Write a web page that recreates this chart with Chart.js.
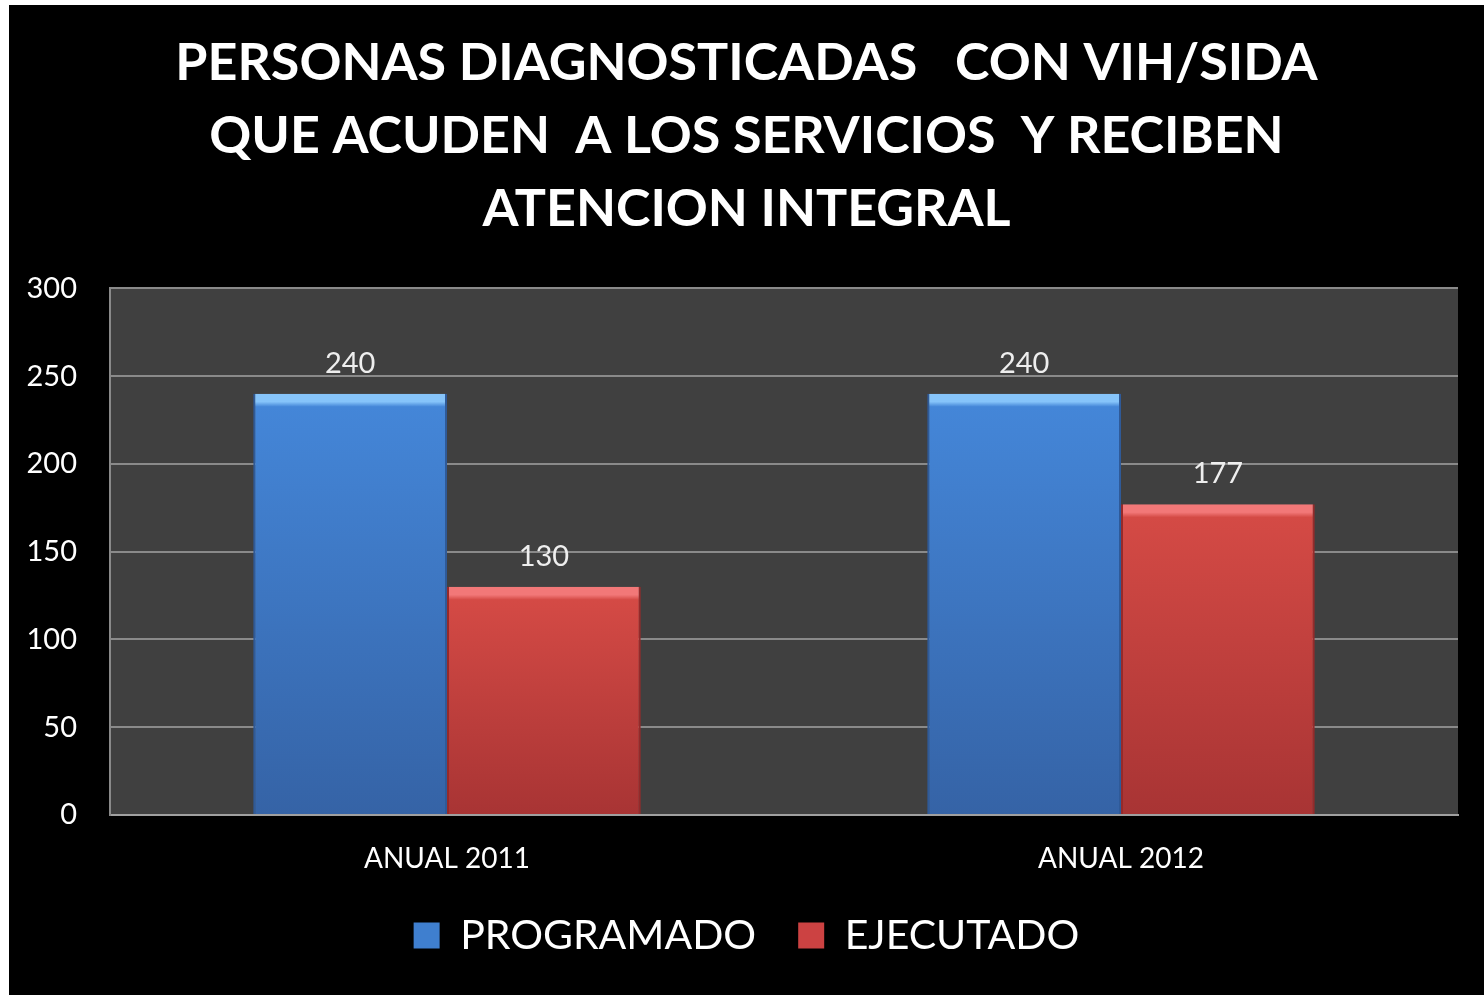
<!DOCTYPE html>
<html>
<head>
<meta charset="utf-8">
<script src="https://cdn.jsdelivr.net/npm/chart.js@4.4.0/dist/chart.umd.min.js"></script>
<style>
  html, body { margin:0; padding:0; background:#fff; }
  #wrap { position:absolute; left:9px; top:5px; width:1475px; height:990px; background:#000; }
</style>
</head>
<body>
<div id="wrap"><canvas id="grafico" width="1475" height="990"></canvas></div>
<script>
// ─── DATOS ───────────────────────────────────────────────────────────────────
const categorias  = ["ANUAL 2011", "ANUAL 2012"];
const programado  = [240, 240];
const ejecutado   = [130, 177];
const titulo      = [
  "PERSONAS DIAGNOSTICADAS   CON VIH/SIDA",
  "QUE ACUDEN  A LOS SERVICIOS  Y RECIBEN",
  "ATENCION INTEGRAL"
];

const FONT = "Lato, 'Open Sans', sans-serif";

// degradado por barra, con bisel claro arriba
function degradado(ctx, claro, medio, oscuro){
  const chart = ctx.chart;
  const area = chart.chartArea;
  if(!area) return medio;
  const y = chart.scales.y;
  const top = y.getPixelForValue(ctx.raw);
  const base = y.getPixelForValue(0);
  const h = Math.max(base - top, 1);
  const g = chart.ctx.createLinearGradient(0, top, 0, base);
  g.addColorStop(0, claro);
  g.addColorStop(Math.min(8 / h, 0.5), claro);
  g.addColorStop(Math.min(13 / h, 0.6), medio);
  g.addColorStop(1, oscuro);
  return g;
}

const fondoPlot = {
  id: "fondoPlot",
  beforeDraw(chart){
    const { ctx, chartArea: a } = chart;
    ctx.save();
    ctx.fillStyle = "#404040";
    ctx.fillRect(a.left, a.top, a.right - a.left, a.bottom - a.top);
    ctx.restore();
  }
};

const etiquetas = {
  id: "etiquetas",
  afterDatasetsDraw(chart){
    const ctx = chart.ctx;
    ctx.save();
    ctx.font = "29px " + FONT;
    ctx.fillStyle = "#eeeeee";
    ctx.textAlign = "center";
    ctx.textBaseline = "bottom";
    chart.data.datasets.forEach((ds, i) => {
      chart.getDatasetMeta(i).data.forEach((bar, j) => {
        ctx.fillText(ds.data[j], bar.x, bar.y - 16);
      });
    });
    ctx.restore();
  }
};

new Chart(document.getElementById("grafico"), {
  type: "bar",
  data: {
    labels: categorias,
    datasets: [
      {
        label: "PROGRAMADO",
        data: programado,
        solido: "#3f7fcf",
        backgroundColor: c => degradado(c, "#86c4fa", "#4486d8", "#3563a6"),
        borderColor: "#2f5a98",
        borderWidth: { left: 2, right: 2, top: 0, bottom: 0 },
        borderSkipped: false
      },
      {
        label: "EJECUTADO",
        data: ejecutado,
        solido: "#cc4242",
        backgroundColor: c => degradado(c, "#f27878", "#d44a45", "#a83434"),
        borderColor: "#962a2a",
        borderWidth: { left: 2, right: 2, top: 0, bottom: 0 },
        borderSkipped: false
      }
    ]
  },
  options: {
    responsive: false,
    animation: false,
    categoryPercentage: 0.575,
    barPercentage: 1.0,
    layout: { padding: { left: 0, right: 0, top: 0, bottom: 29 } },
    scales: {
      x: {
        afterFit: s => { s.height = 58; },
        grid: { display: false },
        border: { color: "#a0a0a0", width: 2 },
        ticks: { color: "#ffffff", font: { family: FONT, size: 28 }, padding: 19 }
      },
      y: {
        min: 0, max: 300,
        afterFit: s => { s.width = 101; },
        grid: { color: "#8a8a8a", lineWidth: 2, drawTicks: false },
        border: { color: "#8a8a8a", width: 2 },
        ticks: { stepSize: 50, color: "#ffffff", font: { family: FONT, size: 29 }, padding: 33 }
      },
      // eje vacío a la derecha solo para dejar el margen sin descentrar el título
      margen: {
        type: "linear",
        position: "right",
        afterFit: s => { s.width = 26; },
        grid: { display: false },
        border: { display: false },
        ticks: { display: false }
      }
    },
    plugins: {
      title: {
        display: true,
        text: titulo,
        color: "#ffffff",
        font: { family: FONT, size: 52, weight: "bold", lineHeight: 1.4 },
        padding: { top: 22, bottom: 43 }
      },
      legend: {
        position: "bottom",
        labels: {
          color: "#ffffff",
          font: { family: FONT, size: 41 },
          boxWidth: 26, boxHeight: 26,
          padding: 42,
          generateLabels(chart){
            const items = Chart.defaults.plugins.legend.labels.generateLabels(chart);
            items.forEach(it => {
              const ds = chart.data.datasets[it.datasetIndex];
              it.fillStyle = ds.solido;
              it.strokeStyle = ds.solido;
              it.lineWidth = 0;
            });
            return items;
          }
        }
      },
      tooltip: { enabled: false }
    }
  },
  plugins: [fondoPlot, etiquetas]
});
</script>
</body>
</html>
